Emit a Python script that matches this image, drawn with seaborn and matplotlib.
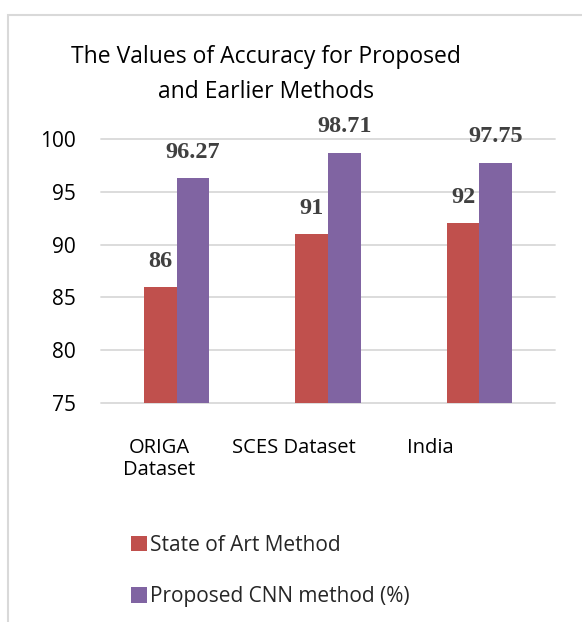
import matplotlib
matplotlib.use("Agg")
import matplotlib.pyplot as plt
import matplotlib.font_manager as fm
from matplotlib.patches import Rectangle
import seaborn as sns
import pandas as pd

categories = ["ORIGA\nDataset", "SCES Dataset", "India"]
series_names = ["State of Art Method", "Proposed CNN method (%)"]
state_of_art = [86, 91, 92]
proposed_cnn = [96.27, 98.71, 97.75]
value_labels = [["86", "91", "92"], ["96.27", "98.71", "97.75"]]
y_ticks = [75, 80, 85, 90, 95, 100]
title = "The Values of Accuracy for Proposed\nand Earlier Methods"

colors = ["#C0504D", "#8064A2"]

df = pd.DataFrame({
    "category": categories * 2,
    "series": [series_names[0]] * 3 + [series_names[1]] * 3,
    "value": state_of_art + proposed_cnn,
})

sns.set_theme(style="white")
plt.rcParams["font.family"] = ["Open Sans", "DejaVu Sans"]

W, H = 582, 622
fig = plt.figure(figsize=(W / 100, H / 100), dpi=100)
ax = fig.add_axes([101 / W, 1 - 403 / H, (555 - 101) / W, (403 - 139) / H])

sns.barplot(data=df, x="category", y="value", hue="series",
            palette=colors, width=0.43, gap=0, ax=ax, legend=True,
            saturation=1, edgecolor="none")

ax.set_ylim(75, 100)
ax.set_xlim(-0.5, 2.5)
ax.set_yticks(y_ticks)
ax.set_xlabel("")
ax.set_ylabel("")
for s in ax.spines.values():
    s.set_visible(False)
ax.set_axisbelow(True)
ax.yaxis.grid(True, color="#d9d9d9", linewidth=1.3)
ax.xaxis.grid(False)
for gl in ax.get_ygridlines():
    gl.set_clip_on(False)

# tick labels (reference places category labels a bit left of groups)
label_offsets = [-0.117, -0.224, -0.326]
ax.set_xticks([i + o for i, o in enumerate(label_offsets)])
ax.set_xticklabels(categories, fontsize=14.5, color="#000000",
                   multialignment="center", linespacing=1.15)
ax.tick_params(axis="x", length=0, pad=25)
ax.tick_params(axis="y", length=0, pad=18, labelsize=15, labelcolor="#000000")

# value labels
serif_bold = fm.FontProperties(family=["Liberation Serif", "DejaVu Serif"],
                               weight="bold", size=17.5)
for cont, labs in zip(ax.containers, value_labels):
    ax.bar_label(cont, labels=labs, padding=11, fontproperties=serif_bold,
                 color="#404040")

fig.suptitle(title, x=266 / W, y=1 - 45 / H, va="top", fontsize=16.5,
             color="#000000", linespacing=1.6)

# legend
handles, labels = ax.get_legend_handles_labels()
ax.get_legend().remove()
fig.legend(handles, labels, loc="upper left",
           bbox_to_anchor=(131 / W, 1 - 535 / H), frameon=False, ncol=1,
           fontsize=15, handlelength=0.75, handleheight=0.75,
           handletextpad=0.15, labelspacing=1.45, borderpad=0, borderaxespad=0)

# chart area frame
fig.patches.append(Rectangle((8 / W, -0.2), 1.2, 0.2 + 1 - 15 / H,
                             transform=fig.transFigure, fill=False,
                             edgecolor="#d9d9d9", linewidth=1.5))

fig.savefig("out.png", dpi=100)
